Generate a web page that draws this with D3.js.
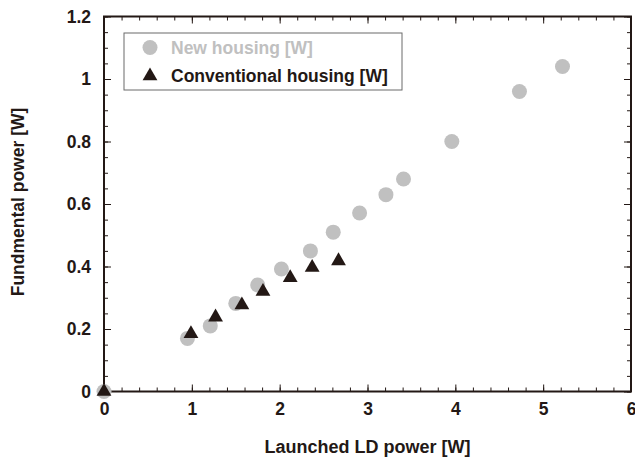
<!DOCTYPE html>
<html>
<head>
<meta charset="utf-8">
<script src="https://cdn.jsdelivr.net/npm/d3@7"></script>
<style>
  html, body { margin: 0; padding: 0; background: #fff; }
  svg { display: block; }
  text { font-family: "Liberation Sans", Arial, Helvetica, sans-serif; font-weight: bold; }
</style>
</head>
<body>
<svg id="chart" width="635" height="460"></svg>
<script>
const newX = [0, 0.95, 1.21, 1.5, 1.75, 2.02, 2.35, 2.61, 2.91, 3.21, 3.41, 3.96, 4.73, 5.22];
const newY = [0, 0.17, 0.21, 0.282, 0.341, 0.392, 0.45, 0.51, 0.571, 0.63, 0.68, 0.80, 0.96, 1.04];
const convX = [0, 0.99, 1.27, 1.57, 1.81, 2.12, 2.37, 2.67];
const convY = [0, 0.185, 0.238, 0.277, 0.32, 0.364, 0.397, 0.418];
const xTicks = [0, 1, 2, 3, 4, 5, 6];
const yTicks = [0, 0.2, 0.4, 0.6, 0.8, 1, 1.2];
const yTickLabels = ["0", "0.2", "0.4", "0.6", "0.8", "1", "1.2"];
const seriesNames = ["New housing [W]", "Conventional housing [W]"];

const svg = d3.select("#chart");
const L = 104, R = 631, T = 16.5, B = 391.5;
const x = d3.scaleLinear().domain([0, 6]).range([L, R]);
const y = d3.scaleLinear().domain([0, 1.2]).range([B, T]);
const axisColor = "#231815";
const gray = "#c0c0c0";
const fontFam = "Liberation Sans, Arial, sans-serif";

const xMinor = d3.range(0, 6.0001, 0.2);
const yMinor = d3.range(0, 1.2001, 0.05);

function styleAxis(g) {
  g.select(".domain").remove();
  g.selectAll("line").attr("stroke", axisColor).attr("stroke-width", 1);
}

// minor ticks (inward)
svg.append("g").attr("transform", `translate(0,${B})`)
  .call(d3.axisBottom(x).tickValues(xMinor).tickSize(-4).tickFormat(""))
  .call(styleAxis);
svg.append("g").attr("transform", `translate(0,${T})`)
  .call(d3.axisTop(x).tickValues(xMinor).tickSize(-4).tickFormat(""))
  .call(styleAxis);
svg.append("g").attr("transform", `translate(${L},0)`)
  .call(d3.axisLeft(y).tickValues(yMinor).tickSize(-4).tickFormat(""))
  .call(styleAxis);
svg.append("g").attr("transform", `translate(${R},0)`)
  .call(d3.axisRight(y).tickValues(yMinor).tickSize(-4).tickFormat(""))
  .call(styleAxis);

// major ticks with labels
const xAx = svg.append("g").attr("transform", `translate(0,${B})`)
  .call(d3.axisBottom(x).tickValues(xTicks).tickSize(-7).tickPadding(11).tickFormat(d3.format("d")))
  .call(styleAxis);
xAx.selectAll("text").attr("fill", axisColor).attr("font-size", 17.5).attr("font-family", fontFam).attr("font-weight", "bold");
svg.append("g").attr("transform", `translate(0,${T})`)
  .call(d3.axisTop(x).tickValues(xTicks).tickSize(-7).tickFormat(""))
  .call(styleAxis);
const yAx = svg.append("g").attr("transform", `translate(${L},0)`)
  .call(d3.axisLeft(y).tickValues(yTicks).tickSize(-7).tickPadding(13).tickFormat((d, i) => yTickLabels[i]))
  .call(styleAxis);
yAx.selectAll("text").attr("fill", axisColor).attr("font-size", 17.5).attr("font-family", fontFam).attr("font-weight", "bold");
svg.append("g").attr("transform", `translate(${R},0)`)
  .call(d3.axisRight(y).tickValues(yTicks).tickSize(-7).tickFormat(""))
  .call(styleAxis);

// frame
svg.append("rect").attr("x", L).attr("y", T).attr("width", R - L).attr("height", B - T)
  .attr("fill", "none").attr("stroke", axisColor).attr("stroke-width", 2);

// data: circles
svg.append("g").selectAll("circle").data(newX.map((d, i) => [d, newY[i]])).join("circle")
  .attr("cx", d => x(d[0])).attr("cy", d => y(d[1])).attr("r", 7.5).attr("fill", gray);

// triangles
const tri = d3.symbol().type(d3.symbolTriangle).size(95);
svg.append("g").selectAll("path").data(convX.map((d, i) => [d, convY[i]])).join("path")
  .attr("d", tri).attr("transform", d => `translate(${x(d[0])},${y(d[1])})`).attr("fill", axisColor);

// legend
svg.append("rect").attr("x", 124).attr("y", 33).attr("width", 278).attr("height", 57)
  .attr("fill", "#fff").attr("stroke", "#6b6b6b").attr("stroke-width", 1);
svg.append("circle").attr("cx", 150).attr("cy", 47.5).attr("r", 7.5).attr("fill", gray);
svg.append("path").attr("d", tri).attr("transform", "translate(150,76)").attr("fill", axisColor);
svg.append("text").attr("x", 171).attr("y", 53.5).attr("font-size", 17.5).attr("fill", gray).text(seriesNames[0]);
svg.append("text").attr("x", 171).attr("y", 81.5).attr("font-size", 17.5).attr("fill", axisColor).text(seriesNames[1]);

// axis titles
svg.append("text").attr("x", (L + R) / 2).attr("y", 453).attr("text-anchor", "middle")
  .attr("font-size", 18).attr("fill", axisColor).text("Launched LD power [W]");
svg.append("text").attr("transform", "translate(24,202) rotate(-90)").attr("text-anchor", "middle")
  .attr("font-size", 17.5).attr("fill", axisColor).text("Fundmental power [W]");
</script>
</body>
</html>
